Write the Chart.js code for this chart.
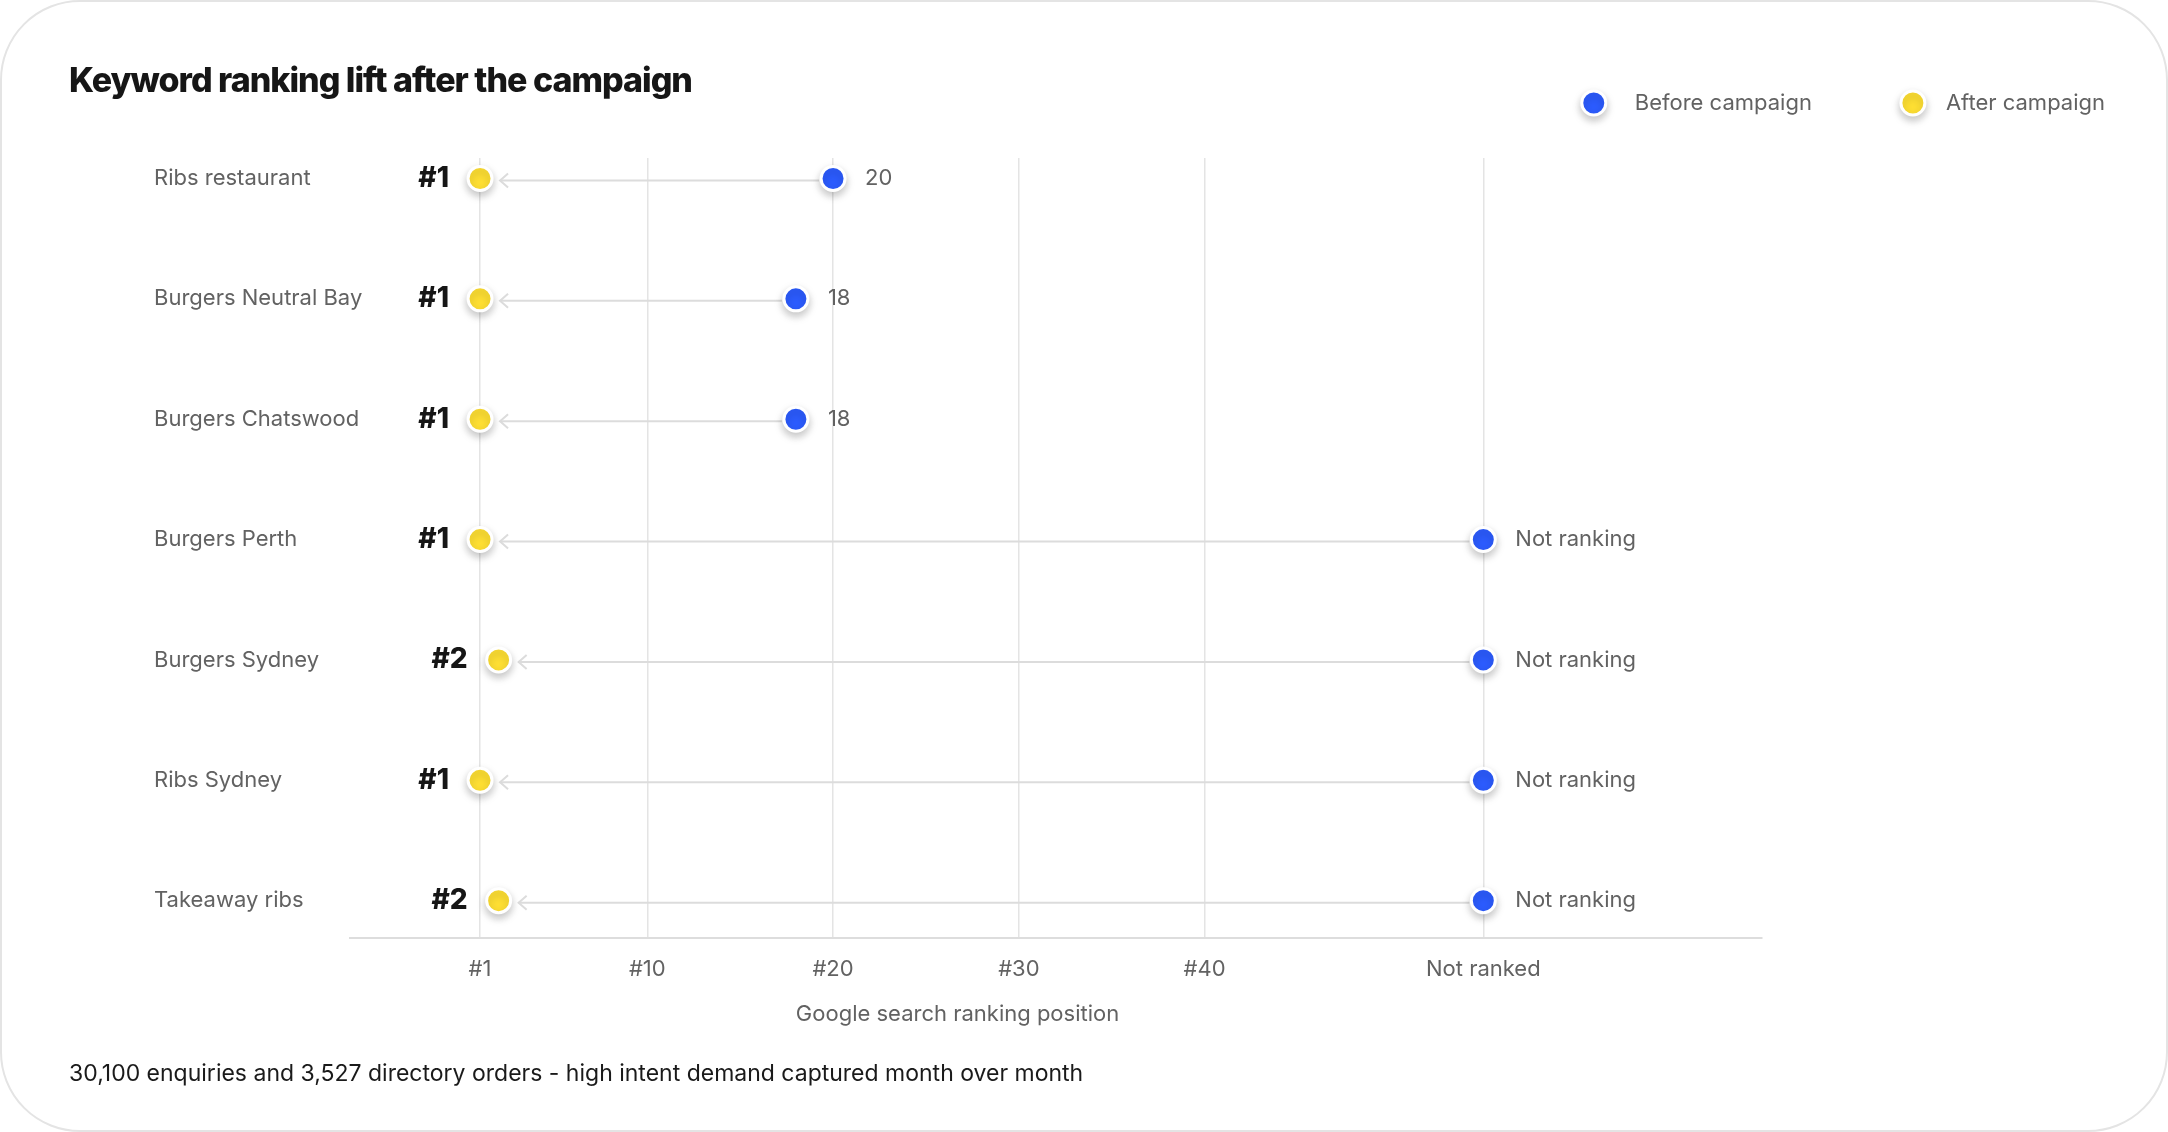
<!DOCTYPE html>
<html>
<head>
    <title>Keyword ranking lift after the campaign</title>
    <script src="https://cdnjs.cloudflare.com/ajax/libs/Chart.js/4.4.1/chart.umd.min.js"></script>
    <style>
        html, body {
            margin: 0;
            padding: 0;
            background: #fff;
            font-family: Inter, "Noto Sans", sans-serif;
        }
        .card {
            position: absolute;
            left: 0;
            top: 0;
            width: 2168px;
            height: 1132px;
            box-sizing: border-box;
            border: 2px solid #e4e4e4;
            border-radius: 80px;
            overflow: hidden;
        }
        .card h1 {
            position: absolute;
            left: 67px;
            top: 61px;
            margin: 0;
            font-size: 34px;
            line-height: 34px;
            font-weight: 800;
            letter-spacing: -1.0px;
            color: #161616;
        }
        .card p {
            position: absolute;
            left: 67px;
            top: 1060px;
            margin: 0;
            font-size: 23px;
            line-height: 23px;
            color: #1a1a1a;
        }
        canvas {
            position: absolute;
            left: 0;
            top: 0;
        }
    </style>
</head>
<body>
    <div class="card">
        <canvas id="myChart" width="2168" height="1132"></canvas>
        <h1>Keyword ranking lift after the campaign</h1>
        <p>30,100 enquiries and 3,527 directory orders - high intent demand captured month over month</p>
    </div>

    <script>
        // Data
        const keywords = ['Ribs restaurant', 'Burgers Neutral Bay', 'Burgers Chatswood', 'Burgers Perth',
                          'Burgers Sydney', 'Ribs Sydney', 'Takeaway ribs'];
        const beforeRank = [20, 18, 18, null, null, null, null];   // null = not ranking
        const afterRank = [1, 1, 1, 1, 2, 1, 2];
        const xTickValues = [1, 10, 20, 30, 40, 55];
        const xTickLabels = ['#1', '#10', '#20', '#30', '#40', 'Not ranked'];
        const NOT_RANKED = 55;

        const BLUE = '#2c5cff';
        const YELLOW = '#ffe033';
        const GREY_TEXT = '#626262';
        const FONT = 'Inter, "Noto Sans", sans-serif';

        const beforePoints = beforeRank.map((r, i) => ({x: r === null ? NOT_RANKED : r, y: i}));
        const afterPoints = afterRank.map((r, i) => ({x: r, y: i}));

        function setShadow(ctx) {
            ctx.shadowColor = 'rgba(0, 0, 0, 0.22)';
            ctx.shadowBlur = 9;
            ctx.shadowOffsetX = 0;
            ctx.shadowOffsetY = 4;
        }

        // connectors, point shadows, value labels, legend and axis title
        const rankingDecor = {
            id: 'rankingDecor',
            beforeDatasetsDraw(chart) {
                const ctx = chart.ctx;
                const xs = chart.scales.x, ys = chart.scales.y;
                ctx.save();
                ctx.strokeStyle = '#dcdcdc';
                ctx.lineWidth = 2;
                keywords.forEach((k, i) => {
                    const x0 = xs.getPixelForValue(beforePoints[i].x) - 14;
                    const x1 = xs.getPixelForValue(afterPoints[i].x) + 20;
                    const y = ys.getPixelForValue(i) + 2;
                    ctx.beginPath();
                    ctx.moveTo(x0, y);
                    ctx.lineTo(x1, y);
                    ctx.stroke();
                    ctx.beginPath();
                    ctx.moveTo(x1 + 8, y - 7);
                    ctx.lineTo(x1, y);
                    ctx.lineTo(x1 + 8, y + 7);
                    ctx.stroke();
                });
                ctx.restore();
                ctx.save();
                setShadow(ctx);
            },
            afterDatasetsDraw(chart) {
                const ctx = chart.ctx;
                ctx.restore();
                ctx.save();
                ctx.textBaseline = 'middle';
                const before = chart.getDatasetMeta(0).data;
                const after = chart.getDatasetMeta(1).data;
                ctx.font = '800 28px ' + FONT;
                ctx.fillStyle = '#161616';
                ctx.textAlign = 'right';
                after.forEach((pt, i) => {
                    ctx.fillText('#' + afterRank[i], pt.x - 31, pt.y);
                });
                ctx.font = '22px ' + FONT;
                ctx.fillStyle = GREY_TEXT;
                ctx.textAlign = 'left';
                before.forEach((pt, i) => {
                    const txt = beforeRank[i] === null ? 'Not ranking' : String(beforeRank[i]);
                    ctx.fillText(txt, pt.x + 32, pt.y);
                });
                ctx.restore();
            },
            afterDraw(chart) {
                const ctx = chart.ctx;
                const xs = chart.scales.x;
                ctx.save();
                // axis title
                ctx.font = '22px ' + FONT;
                ctx.fillStyle = GREY_TEXT;
                ctx.textAlign = 'center';
                ctx.textBaseline = 'middle';
                ctx.fillText('Google search ranking position', xs.getPixelForValue(26.7), 1012);

                // legend, right aligned
                ctx.font = '22px ' + FONT;
                ctx.textAlign = 'left';
                let right = 2103;
                const items = chart.data.datasets.slice().reverse();
                items.forEach((ds, n) => {
                    const w = ctx.measureText(ds.label).width;
                    const tx = right - w;
                    const dx = tx - (n === 0 ? 33 : 41);
                    ctx.save();
                    setShadow(ctx);
                    ctx.beginPath();
                    ctx.arc(dx, 101, 12, 0, Math.PI * 2);
                    ctx.fillStyle = ds.backgroundColor;
                    ctx.fill();
                    ctx.lineWidth = 3;
                    ctx.strokeStyle = '#fff';
                    ctx.stroke();
                    ctx.restore();
                    ctx.fillStyle = GREY_TEXT;
                    ctx.fillText(ds.label, tx, 101);
                    right = dx - 101;
                });
                ctx.restore();
            }
        };

        const ctx = document.getElementById('myChart').getContext('2d');
        new Chart(ctx, {
            type: 'scatter',
            data: {
                datasets: [
                    {
                        label: 'Before campaign',
                        data: beforePoints,
                        backgroundColor: BLUE,
                        borderColor: '#fff',
                        pointRadius: 12,
                        pointBorderWidth: 3
                    },
                    {
                        label: 'After campaign',
                        data: afterPoints,
                        backgroundColor: YELLOW,
                        borderColor: '#fff',
                        pointRadius: 12,
                        pointBorderWidth: 3
                    }
                ]
            },
            options: {
                responsive: false,
                animation: false,
                events: [],
                devicePixelRatio: 1,
                layout: {
                    padding: {left: 152, right: 408, top: 156, bottom: 0}
                },
                plugins: {
                    legend: {display: false},
                    tooltip: {enabled: false}
                },
                scales: {
                    x: {
                        type: 'linear',
                        min: -6,
                        max: 70,
                        afterBuildTicks: scale => {
                            scale.ticks = xTickValues.map(v => ({value: v}));
                        },
                        afterFit: scale => {
                            scale.height = 196;
                        },
                        ticks: {
                            callback: v => xTickLabels[xTickValues.indexOf(v)],
                            padding: 18,
                            maxRotation: 0,
                            autoSkip: false,
                            color: GREY_TEXT,
                            font: {family: FONT, size: 22}
                        },
                        grid: {
                            color: '#e4e4e4',
                            lineWidth: 1.5,
                            drawTicks: false
                        },
                        border: {
                            color: '#dddddd',
                            width: 2
                        }
                    },
                    y: {
                        type: 'linear',
                        reverse: true,
                        min: -0.17,
                        max: 6.31,
                        afterBuildTicks: scale => {
                            scale.ticks = keywords.map((k, i) => ({value: i}));
                        },
                        afterFit: scale => {
                            scale.width = 196;
                        },
                        ticks: {
                            callback: v => keywords[v],
                            // mirrored so long names are not clipped to the axis box;
                            // negative padding pulls them back to the left margin
                            mirror: true,
                            padding: -196,
                            color: GREY_TEXT,
                            font: {family: FONT, size: 22}
                        },
                        grid: {display: false},
                        border: {display: false}
                    }
                }
            },
            plugins: [rankingDecor]
        });
    </script>
</body>
</html>
